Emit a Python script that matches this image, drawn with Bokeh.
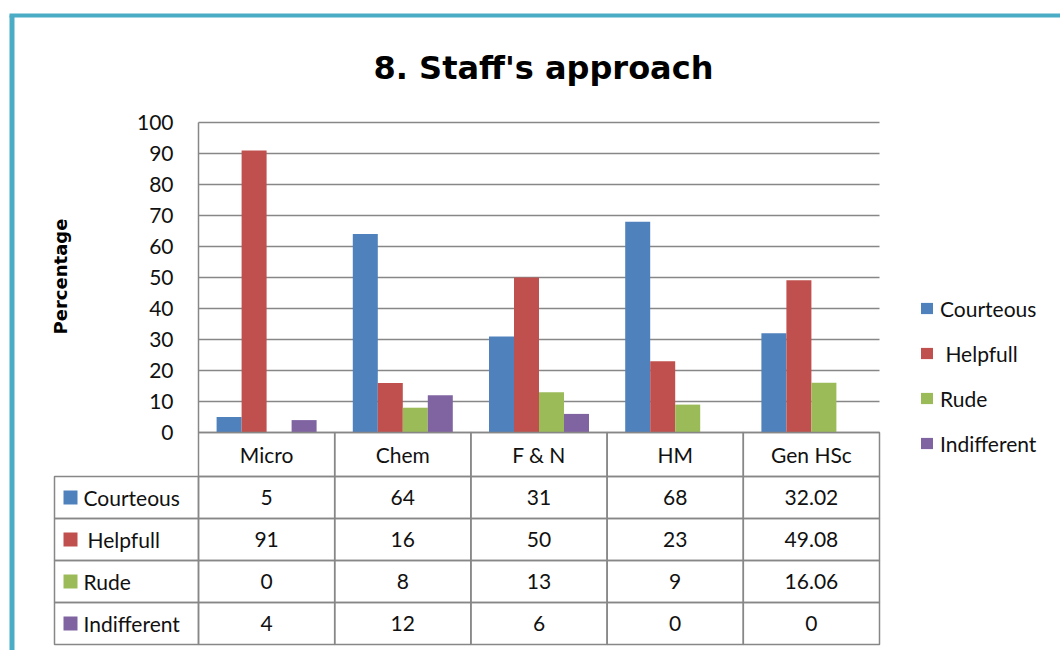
import math
from bokeh.plotting import figure
from bokeh.models import Range1d, LinearAxis, FixedTicker, Legend, LegendItem
from bokeh.core.properties import value
from bokeh.embed import file_html
from bokeh.resources import INLINE

# ---------------- data ----------------
title_text = "8. Staff's approach"
y_label = "Percentage"
categories = ["Micro", "Chem", "F & N", "HM", "Gen HSc"]
series_names = ["Courteous", " Helpfull", "Rude", "Indifferent"]
courteous = [5, 64, 31, 68, 32.02]
helpfull = [91, 16, 50, 23, 49.08]
rude = [0, 8, 13, 9, 16.06]
indifferent = [4, 12, 6, 0, 0]
colors = ["#4F81BD", "#C0504D", "#9BBB59", "#8064A2"]
y_ticks = [0, 10, 20, 30, 40, 50, 60, 70, 80, 90, 100]
series_values = [courteous, helpfull, rude, indifferent]

# ---------------- layout helpers (page pixels -> data) ----------------
W, H = 1060, 650
PAGE0 = 0
ZERO_X, ZERO_Y = 198.0, 432.0      # page px of (x=0, y=0)
UX = 136.2                          # px per category
UY = 3.1                            # px per percent


def dx(px):
    return (px - ZERO_X) / UX


def dy(py):
    return (ZERO_Y - py) / UY


x_start, x_end = dx(PAGE0), dx(PAGE0 + W)
y_start, y_end = dy(PAGE0 + H), dy(PAGE0)

FONT = value("Lato")
GRAY = "#878787"

p = figure(width=W, height=H, output_backend="svg", toolbar_location=None,
           x_range=Range1d(x_start, x_end), y_range=Range1d(y_start, y_end),
           x_axis_location=None, y_axis_location=None, min_border=0,
           background_fill_color="white", border_fill_color="white")
p.outline_line_color = None
p.xgrid.visible = False
p.ygrid.visible = False

# ---------------- grid lines ----------------
p.segment(x0=[0] * len(y_ticks), x1=[len(categories)] * len(y_ticks),
          y0=y_ticks, y1=y_ticks, line_color=GRAY, line_width=1.3)

# ---------------- y axis ----------------
yaxis = LinearAxis(fixed_location=0, bounds=(0, 100), ticker=FixedTicker(ticks=y_ticks))
yaxis.axis_line_color = GRAY
yaxis.axis_line_width = 1.5
yaxis.major_tick_out = 0
yaxis.major_tick_in = 0
yaxis.minor_tick_out = 0
yaxis.minor_tick_in = 0
yaxis.major_label_standoff = 25
yaxis.major_label_text_font = "Lato"
yaxis.major_label_text_font_size = "21px"
yaxis.major_label_text_color = "#111111"
p.add_layout(yaxis, "left")

# ---------------- bars ----------------
bw = 25.0 / UX
renderers = []
for k, vals in enumerate(series_values):
    xs = [i + 0.5 + (k - 1.5) * bw for i in range(len(categories))]
    r = p.vbar(x=xs, top=vals, bottom=0, width=bw, fill_color=colors[k], line_color=None)
    renderers.append(r)

LEG_TOP = 295.5
LEG_H = 4 * 25 + 3 * 20
legend = Legend(items=[LegendItem(label=series_names[k], renderers=[renderers[k]])
                       for k in range(len(series_names))],
                location=(919, H - (LEG_TOP + LEG_H)), orientation="vertical")
legend.background_fill_alpha = 0
legend.border_line_color = None
legend.padding = 0
legend.margin = 0
legend.spacing = 20
legend.glyph_width = 15
legend.glyph_height = 14
legend.label_height = 25
legend.label_standoff = 6
legend.label_text_font = "Lato"
legend.label_text_font_size = "21px"
legend.label_text_color = "#111111"
p.add_layout(legend)

# ---------------- data table ----------------
HEAD_H = 44.0 / UY
ROW_H = 42.0 / UY
label_left = dx(54)

lefts, rights, tops, bottoms = [], [], [], []
for i in range(len(categories)):
    lefts.append(i); rights.append(i + 1); tops.append(0); bottoms.append(-HEAD_H)
for r in range(len(series_names)):
    t = -HEAD_H - r * ROW_H
    b = t - ROW_H
    lefts.append(label_left); rights.append(0); tops.append(t); bottoms.append(b)
    for i in range(len(categories)):
        lefts.append(i); rights.append(i + 1); tops.append(t); bottoms.append(b)
p.quad(left=lefts, right=rights, top=tops, bottom=bottoms,
       fill_color=None, line_color=GRAY, line_width=1.5)

# header labels
p.text(x=[i + 0.5 for i in range(len(categories))], y=[-HEAD_H / 2] * len(categories),
       text=categories, text_font=FONT, text_font_size="21px", text_color="#111111",
       text_align="center", text_baseline="middle")


def fmt(v):
    return str(int(v)) if float(v).is_integer() else ("%.2f" % v)


row_y = [-HEAD_H - (r + 0.5) * ROW_H for r in range(len(series_names))]
cx, cy, ct = [], [], []
for r, vals in enumerate(series_values):
    for i, v in enumerate(vals):
        cx.append(i + 0.5); cy.append(row_y[r]); ct.append(fmt(v))
p.text(x=cx, y=cy, text=ct, text_font=FONT, text_font_size="21px", text_color="#111111",
       text_align="center", text_baseline="middle")

# row keys and names
p.scatter(x=[dx(70)] * len(series_names), y=row_y, marker="square", size=14,
          fill_color=colors, line_color=None)
p.text(x=[dx(83)] * len(series_names), y=row_y, text=series_names, text_font=FONT,
       x_offset=[4 if s.startswith(" ") else 0 for s in series_names],
       text_font_size="21px", text_color="#111111", text_align="left", text_baseline="middle")

# ---------------- title and axis label ----------------
p.text(x=[dx(543)], y=[dy(67)], text=[title_text], text_font=value("DejaVu Sans"),
       text_font_size="32px", text_font_style="bold", text_color="#000000",
       text_align="center", text_baseline="middle")
p.text(x=[dx(60)], y=[dy(276)], text=[y_label], text_font=value("DejaVu Sans"),
       text_font_size="18px", text_font_style="bold", text_color="#000000",
       text_align="center", text_baseline="middle", angle=math.pi / 2)

# ---------------- outer frame (top and left edges) ----------------
p.segment(x0=[dx(11.5)], x1=[dx(11.5)], y0=[dy(15)], y1=[y_start], line_color="#4BACC6",
          line_width=5, line_cap="butt")
p.segment(x0=[dx(9)], x1=[x_end], y0=[dy(15)], y1=[dy(15)], line_color="#4BACC6",
          line_width=4, line_cap="butt")

open("out.html", "w").write(file_html(p, INLINE))
